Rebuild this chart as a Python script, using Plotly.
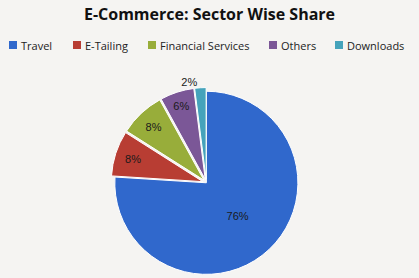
import plotly.graph_objects as go

labels = ["Travel", "E-Tailing", "Financial Services", "Others", "Downloads"]
values = [76, 8, 8, 6, 2]
colors = ["#3068cc", "#b83d33", "#98ad3a", "#7b5797", "#45a3bb"]
positions = ["inside", "inside", "inside", "inside", "outside"]
pulls = [0, 0.04, 0.04, 0.04, 0.04]

# legend layout (paper-pixel x of each square's left edge)
legend_x_px = [9, 73, 148, 269, 335]
W, H = 419, 278
legend_y_px = 45

fig = go.Figure(go.Pie(
    labels=labels, values=values, sort=False, direction="clockwise", rotation=0,
    marker=dict(colors=colors, line=dict(color="white", width=1)),
    textinfo="percent", textposition=positions, pull=pulls,
    insidetextorientation="horizontal",
    textfont=dict(family="Liberation Sans", size=11, color="#1a1a1a"),
    domain=dict(x=[0, 0.985], y=[0.0, 0.685]),
    hoverinfo="label+percent",
    showlegend=False,
))

shapes = []
annotations = []
for lab, col, xp in zip(labels, colors, legend_x_px):
    shapes.append(dict(type="rect", xref="paper", yref="paper",
                       x0=xp / W, x1=(xp + 8) / W,
                       y0=1 - (legend_y_px + 4) / H, y1=1 - (legend_y_px - 4) / H,
                       fillcolor=col, line=dict(width=0)))
    annotations.append(dict(text=lab, xref="paper", yref="paper",
                            x=(xp + 10) / W, y=1 - legend_y_px / H,
                            xanchor="left", yanchor="middle", showarrow=False,
                            font=dict(family="Open Sans", size=11, color="#222")))

fig.update_layout(
    width=W, height=H,
    margin=dict(l=0, r=0, t=0, b=0, autoexpand=False),
    paper_bgcolor="#f5f4f2", plot_bgcolor="#f5f4f2",
    title=dict(text="<b>E-Commerce: Sector Wise Share</b>", x=0.5, y=0.95, xanchor="center", yanchor="middle",
               font=dict(family="Open Sans", size=16, color="#111")),
    shapes=shapes, annotations=annotations,
)
fig.write_html("out.html")
